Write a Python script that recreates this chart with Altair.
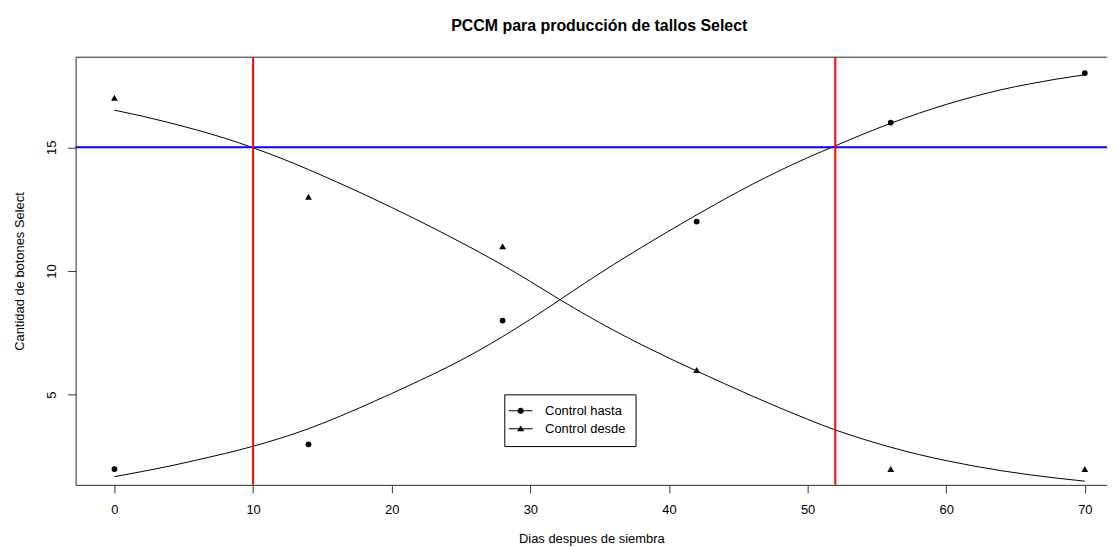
import altair as alt
import pandas as pd

F = "Liberation Sans"

# observed data
dias = [0, 14, 28, 42, 56, 70]
control_hasta = [2, 3, 8, 12, 16, 18]
control_desde = [17, 13, 11, 6, 2, 2]

# fitted curves
x_curva = list(range(0, 71, 2))
curva_hasta = [1.69, 1.90, 2.12, 2.37, 2.63, 2.92, 3.25, 3.63, 4.07, 4.55, 5.05, 5.57,
               6.11, 6.70, 7.35, 8.05, 8.79, 9.54, 10.26, 10.95, 11.62, 12.27, 12.90, 13.50,
               14.06, 14.58, 15.06, 15.53, 15.97, 16.37, 16.73, 17.05, 17.33, 17.56, 17.76, 17.93]
curva_desde = [16.50, 16.26, 15.99, 15.69, 15.36, 14.98, 14.56, 14.10, 13.61, 13.10, 12.57, 12.02,
               11.45, 10.86, 10.24, 9.58, 8.89, 8.23, 7.61, 7.03, 6.48, 5.96, 5.45, 4.95,
               4.47, 4.01, 3.58, 3.21, 2.88, 2.59, 2.34, 2.12, 1.93, 1.77, 1.63, 1.51]

series = ["Control hasta", "Control desde"]
cortes = [10, 52]
umbral = [15]

x_dom = [-2.8, 71.6]
y_dom = [1.36, 18.64]

pts = pd.DataFrame({
    "dia": dias + dias,
    "valor": control_hasta + control_desde,
    "serie": [series[0]] * len(dias) + [series[1]] * len(dias),
})
curvas = pd.DataFrame({
    "dia": x_curva + x_curva,
    "valor": curva_hasta + curva_desde,
    "serie": [series[0]] * len(x_curva) + [series[1]] * len(x_curva),
})
df_cortes = pd.DataFrame({"dia": cortes})
df_umbral = pd.DataFrame({"valor": umbral})

x_scale = alt.Scale(domain=x_dom, nice=False, zero=False)
y_scale = alt.Scale(domain=y_dom, nice=False, zero=False)

x_axis = alt.Axis(values=[0, 10, 20, 30, 40, 50, 60, 70], grid=False, tickSize=8,
                  labelPadding=17, labelBaseline="middle", labelFontSize=13, labelFont=F,
                  labelColor="black", domainColor="#333", tickColor="#333",
                  titleFont=F, titleFontSize=13, titleFontWeight="normal", titleColor="black",
                  titleY=54, titleBaseline="middle")
y_axis = alt.Axis(values=[5, 10, 15], grid=False, tickSize=8, labelAngle=270,
                  labelAlign="center", labelBaseline="middle", labelPadding=16,
                  labelFontSize=13, labelFont=F, labelColor="black",
                  domainColor="#333", tickColor="#333",
                  titleFont=F, titleFontSize=13, titleFontWeight="normal", titleColor="black",
                  titleAngle=270, titleX=-56, titleY=215, titleAlign="center",
                  titleBaseline="middle")

XT = "Dias despues de siembra"
YT = "Cantidad de botones Select"

# legend glyphs: a short line (thin filled bar) with the marker on it
bar = "M-2,-0.09L2,-0.09L2,0.09L-2,0.09Z"
circle_path = bar + "M-0.52,0a0.52,0.52 0 1,1 1.04,0a0.52,0.52 0 1,1 -1.04,0Z"
tri_path = bar + "M0,-0.55L0.6,0.45L-0.6,0.45Z"

legend = alt.Legend(
    title=None, orient="none", legendX=431, legendY=339, padding=10, rowPadding=4,
    labelOffset=18, labelFontSize=13, labelFont=F, labelColor="black", labelLimit=300,
    strokeColor="black", fillColor="white", cornerRadius=0, symbolSize=144,
    symbolFillColor="black", symbolStrokeColor="black", symbolStrokeWidth=1, symbolOpacity=1,
)

# legend source layer (draws no marks itself)
leyenda = alt.Chart(pts).transform_filter("false").mark_point(
    filled=True, opacity=1, fill="black", stroke="black", strokeWidth=1, size=144).encode(
    x=alt.X("dia:Q", scale=x_scale, axis=x_axis, title=XT),
    y=alt.Y("valor:Q", scale=y_scale, axis=y_axis, title=YT),
    shape=alt.Shape("serie:N", scale=alt.Scale(domain=series, range=[circle_path, tri_path]),
                    legend=legend),
)

puntos = alt.Chart(pts).mark_point(filled=True, opacity=1, color="black").encode(
    x=alt.X("dia:Q", scale=x_scale, axis=x_axis, title=XT),
    y=alt.Y("valor:Q", scale=y_scale, axis=y_axis, title=YT),
    shape=alt.Shape("serie:N", scale=alt.Scale(domain=series, range=["circle", "triangle-up"]),
                    legend=None),
    size=alt.Size("serie:N", scale=alt.Scale(domain=series, range=[34, 46]), legend=None),
)

lineas = alt.Chart(curvas).mark_line(color="black", strokeWidth=1, interpolate="monotone").encode(
    x=alt.X("dia:Q", scale=x_scale, title=XT),
    y=alt.Y("valor:Q", scale=y_scale, title=YT),
    detail="serie:N",
)

horiz = alt.Chart(df_umbral).mark_rule(color="#0000FF", strokeWidth=2).encode(
    y=alt.Y("valor:Q", scale=y_scale, title=YT),
)
vert = alt.Chart(df_cortes).mark_rule(color="#FF0000", strokeWidth=2).encode(
    x=alt.X("dia:Q", scale=x_scale, title=XT),
)
tope = alt.Chart(df_umbral).mark_rule(color="#333", strokeWidth=1).encode(
    y=alt.datum(y_dom[1]),
)

chart = alt.layer(leyenda, lineas, puntos, horiz, vert, tope).resolve_scale(
    shape="independent", size="independent"
).properties(
    width=1037, height=430,
    padding={"left": 68, "top": 48, "right": 0, "bottom": 61},
    autosize=alt.AutoSizeParams(type="none"),
    title=alt.Title("PCCM para producción de tallos Select", fontSize=16, fontWeight="bold",
                    font=F, anchor="middle", offset=9, dx=8, baseline="alphabetic",
                    color="black"),
).configure_view(stroke=None).configure(background="white")

chart.save("out.html", embed_options={"renderer": "svg", "actions": False})
